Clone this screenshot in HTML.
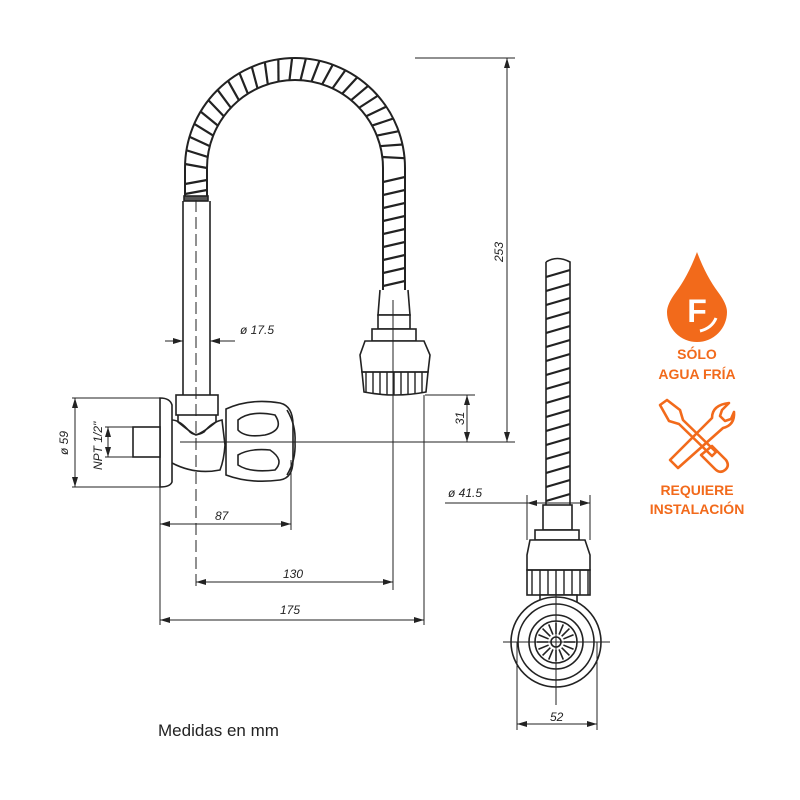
<!DOCTYPE html>
<html><head><meta charset="utf-8"><style>
html,body{margin:0;padding:0;background:#fff;}
svg{display:block;}
text{font-family:"Liberation Sans",sans-serif;}
</style></head><body>
<svg width="800" height="800" viewBox="0 0 800 800" xmlns="http://www.w3.org/2000/svg">
<defs>
<marker id="a" viewBox="0 0 10 6" refX="10" refY="3" markerWidth="10" markerHeight="6" orient="auto-start-reverse" markerUnits="userSpaceOnUse"><path d="M0,0 L10,3 L0,6 z" fill="#222"/></marker>
<pattern id="pr" patternUnits="userSpaceOnUse" x="383" y="172" width="22" height="13"><line x1="0" y1="10" x2="22" y2="5" stroke="#222" stroke-width="2.2"/></pattern>
<pattern id="pf" patternUnits="userSpaceOnUse" x="546" y="266" width="24" height="14"><line x1="0" y1="11" x2="24" y2="4" stroke="#222" stroke-width="2.2"/></pattern>
<pattern id="pv" patternUnits="userSpaceOnUse" x="363" y="0" width="7" height="20"><line x1="3" y1="0" x2="3" y2="20" stroke="#222" stroke-width="1.4"/></pattern>
<pattern id="pv2" patternUnits="userSpaceOnUse" x="529" y="0" width="8" height="20"><line x1="3" y1="0" x2="3" y2="20" stroke="#222" stroke-width="1.4"/></pattern>
</defs>
<g fill="none" stroke="#222" stroke-width="2">
<path d="M185,200 V168 A110,110 0 0 1 405,168 V290"/>
<path d="M207,200 V168 A88,88 0 0 1 383,168 V290"/>
</g>
<g stroke="#222" stroke-width="2.2">
<line x1="207" y1="168" x2="185" y2="164" transform="rotate(0 295 168)"/>
<line x1="207" y1="168" x2="185" y2="164" transform="rotate(7.2 295 168)"/>
<line x1="207" y1="168" x2="185" y2="164" transform="rotate(14.4 295 168)"/>
<line x1="207" y1="168" x2="185" y2="164" transform="rotate(21.6 295 168)"/>
<line x1="207" y1="168" x2="185" y2="164" transform="rotate(28.8 295 168)"/>
<line x1="207" y1="168" x2="185" y2="164" transform="rotate(36 295 168)"/>
<line x1="207" y1="168" x2="185" y2="164" transform="rotate(43.2 295 168)"/>
<line x1="207" y1="168" x2="185" y2="164" transform="rotate(50.4 295 168)"/>
<line x1="207" y1="168" x2="185" y2="164" transform="rotate(57.6 295 168)"/>
<line x1="207" y1="168" x2="185" y2="164" transform="rotate(64.8 295 168)"/>
<line x1="207" y1="168" x2="185" y2="164" transform="rotate(72 295 168)"/>
<line x1="207" y1="168" x2="185" y2="164" transform="rotate(79.2 295 168)"/>
<line x1="207" y1="168" x2="185" y2="164" transform="rotate(86.4 295 168)"/>
<line x1="207" y1="168" x2="185" y2="164" transform="rotate(93.6 295 168)"/>
<line x1="207" y1="168" x2="185" y2="164" transform="rotate(100.8 295 168)"/>
<line x1="207" y1="168" x2="185" y2="164" transform="rotate(108 295 168)"/>
<line x1="207" y1="168" x2="185" y2="164" transform="rotate(115.2 295 168)"/>
<line x1="207" y1="168" x2="185" y2="164" transform="rotate(122.4 295 168)"/>
<line x1="207" y1="168" x2="185" y2="164" transform="rotate(129.6 295 168)"/>
<line x1="207" y1="168" x2="185" y2="164" transform="rotate(136.8 295 168)"/>
<line x1="207" y1="168" x2="185" y2="164" transform="rotate(144 295 168)"/>
<line x1="207" y1="168" x2="185" y2="164" transform="rotate(151.2 295 168)"/>
<line x1="207" y1="168" x2="185" y2="164" transform="rotate(158.4 295 168)"/>
<line x1="207" y1="168" x2="185" y2="164" transform="rotate(165.6 295 168)"/>
<line x1="207" y1="168" x2="185" y2="164" transform="rotate(172.8 295 168)"/>
<line x1="185" y1="184" x2="207" y2="180"/>
<line x1="185" y1="194" x2="207" y2="190"/>
</g>
<rect x="383" y="172" width="22" height="118" fill="url(#pr)"/>
<rect x="546" y="266" width="24" height="238" fill="url(#pf)"/>
<g fill="none" stroke="#222" stroke-width="1.6">
<rect x="184" y="196" width="24" height="5" fill="#555"/>
<path d="M183,201 V395 M210,201 V395"/>
<path d="M380,290 L378,315 H410 L408,290"/>
<rect x="378" y="315" width="32" height="14" fill="#fff"/>
<rect x="372" y="329" width="44" height="12" fill="#fff"/>
<path d="M365,341 H424 L430,355 L428,372 H362 L360,355 Z" fill="#fff"/>
<path d="M362,372 H428 L426,392 Q395,398 364,392 Z" fill="url(#pv)"/>
<path d="M160,398 Q170,398 172,405 V482 Q170,487 160,487 Z" fill="#fff"/>
<rect x="133" y="427" width="27" height="30" fill="#fff"/>
<rect x="176" y="395" width="42" height="20" fill="#fff"/>
<path d="M178,415 L178,422 Q190,432 196,435 Q204,432 216,422 V415"/>
<path d="M172,420 Q180,420 190,432 Q196,437 204,432 Q212,422 222,420 L225,445 Q224,460 220,470 Q195,475 172,463"/>
<path d="M226,409 Q250,398 280,403 Q293,406 293,425 V460 Q293,478 280,480 Q250,484 226,475 Z" fill="#fff"/>
<path d="M238,420 Q250,410 275,415 Q285,430 265,435 Q245,438 238,430 Z"/>
<path d="M238,455 Q250,448 270,450 Q285,460 275,470 Q250,473 238,465 Z"/>
<path d="M287,410 Q296,425 295,442 Q296,460 287,475"/>
<path d="M546,262 Q557,255 570,262 V505 M546,262 V505"/>
<rect x="543" y="505" width="29" height="25" fill="#fff"/>
<rect x="535" y="530" width="44" height="10" fill="#fff"/>
<path d="M530,540 H585 L590,555 V570 H527 V555 Z" fill="#fff"/>
<rect x="527" y="570" width="63" height="25" fill="url(#pv2)"/>
<rect x="540" y="595" width="37" height="12" fill="#fff"/>
<circle cx="556" cy="642" r="45" fill="#fff"/>
<circle cx="556" cy="642" r="38"/>
<circle cx="556" cy="642" r="27"/>
<circle cx="556" cy="642" r="21"/>
<circle cx="556" cy="642" r="5"/>
</g>
<g stroke="#222" stroke-width="1.6">
<line x1="564" y1="642" x2="575" y2="642" transform="rotate(0 556 642)"/>
<line x1="564" y1="642" x2="575" y2="642" transform="rotate(22.5 556 642)"/>
<line x1="564" y1="642" x2="575" y2="642" transform="rotate(45 556 642)"/>
<line x1="564" y1="642" x2="575" y2="642" transform="rotate(67.5 556 642)"/>
<line x1="564" y1="642" x2="575" y2="642" transform="rotate(90 556 642)"/>
<line x1="564" y1="642" x2="575" y2="642" transform="rotate(112.5 556 642)"/>
<line x1="564" y1="642" x2="575" y2="642" transform="rotate(135 556 642)"/>
<line x1="564" y1="642" x2="575" y2="642" transform="rotate(157.5 556 642)"/>
<line x1="564" y1="642" x2="575" y2="642" transform="rotate(180 556 642)"/>
<line x1="564" y1="642" x2="575" y2="642" transform="rotate(202.5 556 642)"/>
<line x1="564" y1="642" x2="575" y2="642" transform="rotate(225 556 642)"/>
<line x1="564" y1="642" x2="575" y2="642" transform="rotate(247.5 556 642)"/>
<line x1="564" y1="642" x2="575" y2="642" transform="rotate(270 556 642)"/>
<line x1="564" y1="642" x2="575" y2="642" transform="rotate(292.5 556 642)"/>
<line x1="564" y1="642" x2="575" y2="642" transform="rotate(315 556 642)"/>
<line x1="564" y1="642" x2="575" y2="642" transform="rotate(337.5 556 642)"/>
</g>
<g stroke="#222" stroke-width="1" fill="none">
<path d="M196,200 V590" stroke-dasharray="12,5"/>
<path d="M393,300 V590"/>
<path d="M180,442 H515"/>
<path d="M415,58 H515"/>
<path d="M160,487 V625 M291,460 V530 M424,395 V625"/>
<path d="M72,398 H160 M72,487 H160 M105,427 H133 M105,457 H133"/>
<path d="M75,398 V487" marker-start="url(#a)" marker-end="url(#a)"/>
<path d="M108,427 V457" marker-start="url(#a)" marker-end="url(#a)"/>
<path d="M165,341 H183" marker-end="url(#a)"/>
<path d="M235,341 H210" marker-end="url(#a)"/>
<path d="M160,524 H291" marker-start="url(#a)" marker-end="url(#a)"/>
<path d="M196,582 H393" marker-start="url(#a)" marker-end="url(#a)"/>
<path d="M160,620 H424" marker-start="url(#a)" marker-end="url(#a)"/>
<path d="M425,395 H475"/>
<path d="M467,395 V442" marker-start="url(#a)" marker-end="url(#a)"/>
<path d="M507,58 V442" marker-start="url(#a)" marker-end="url(#a)"/>
<path d="M445,503 H527"/>
<path d="M527,495 V540 M590,495 V540"/>
<path d="M527,503 H590" marker-start="url(#a)" marker-end="url(#a)"/>
<path d="M517,642 V730 M597,642 V730"/>
<path d="M517,724 H597" marker-start="url(#a)" marker-end="url(#a)"/>
<path d="M503,642 H610 M556,595 V705"/>
</g>
<g font-size="12" font-style="italic" fill="#222">
<text x="240" y="334">ø 17.5</text>
<text x="215" y="520">87</text>
<text x="283" y="578">130</text>
<text x="280" y="614">175</text>
<text x="448" y="497">ø 41.5</text>
<text x="550" y="721">52</text>
<text transform="translate(68,455) rotate(-90)">ø 59</text>
<text transform="translate(102,470) rotate(-90)">NPT 1/2"</text>
<text transform="translate(464,425) rotate(-90)">31</text>
<text transform="translate(503,262) rotate(-90)">253</text>
</g>
<text x="158" y="736" font-size="17" fill="#222">Medidas en mm</text>
<path d="M697,252 Q706,276 718,292 Q727,304 727,312 A30,30 0 0 1 667,312 Q667,304 676,292 Q688,276 697,252 Z" fill="#f26a1b"/>
<path d="M716,318 Q712,328 700,331" stroke="#fff" stroke-width="3" fill="none"/>
<text x="697" y="322" font-size="32" font-weight="bold" fill="#fff" text-anchor="middle">F</text>
<g font-size="14" font-weight="bold" fill="#f26a1b" text-anchor="middle">
<text x="697" y="359">SÓLO</text>
<text x="697" y="379">AGUA FRÍA</text>
<text x="697" y="495">REQUIERE</text>
<text x="697" y="514">INSTALACIÓN</text>
</g>
<g fill="none" stroke="#f26a1b" stroke-width="2.6" stroke-linejoin="round">
<path d="M660,405 L667,400 L680,410 L683,420 L716,452 L712,456 L679,424 L669,421 Z"/>
<path d="M712,446 L726,460 Q730,466 725,470 Q720,474 715,469 L701,455 Z"/>
<path d="M729,403 L722,410 L720,416 L725,421 L731,419 L734,412 Q735,425 723,428 L678,468 L670,460 L712,418 Q712,405 729,403 Z"/>
</g>
</svg>
</body></html>
